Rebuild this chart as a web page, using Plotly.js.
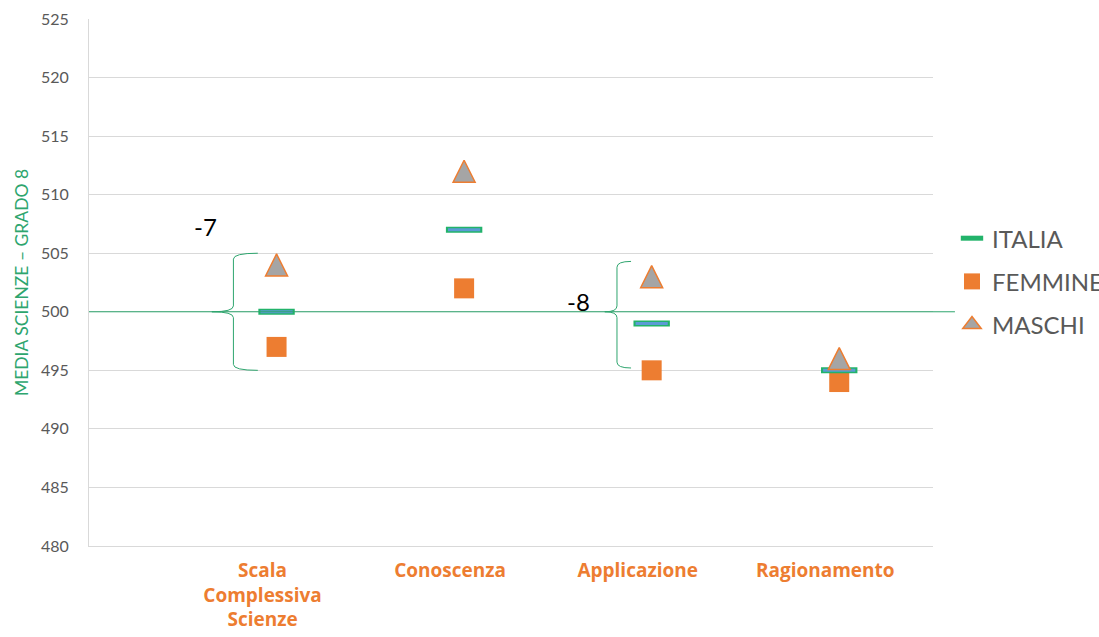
<!DOCTYPE html>
<html>
<head>
<meta charset="utf-8">
<script src="https://cdn.plot.ly/plotly-3.0.1.min.js"></script>
<style>
html,body{margin:0;padding:0;background:#fff;}
#chart{width:1099px;height:637px;}
</style>
</head>
<body>
<div id="chart"></div>
<script>
// ---- data ----
const categories = ["Scala<br>Complessiva<br>Scienze", "Conoscenza", "Applicazione", "Ragionamento"];
const catPos = [1, 2, 3, 4];
const italia = [500, 507, 499, 495];
const femmine = [497, 502, 495, 494];
const maschi = [504, 512, 503, 496];
const yTicks = [480, 485, 490, 495, 500, 505, 510, 515, 520, 525];

const FONT = "Lato, 'Open Sans', sans-serif";
const ORANGE = "#ED7D31";
const GREEN = "#2EA56E";

const traces = [
  {
    name: "FEMMINE", x: catPos, y: femmine, type: "scatter", mode: "markers",
    legendgroup: "f", legendrank: 2,
    marker: {symbol: "square", size: 20, color: ORANGE, line: {width: 0}},
    hoverinfo: "skip"
  },
  {
    name: "ITALIA", x: catPos, y: italia, type: "scatter", mode: "markers",
    legendgroup: "i", legendrank: 1,
    marker: {symbol: "line-ew", size: 26, color: GREEN, line: {width: 6, color: "#22B36A"}},
    hoverinfo: "skip"
  },
  {
    name: "ITALIA_in", x: catPos, y: italia, type: "scatter", mode: "markers",
    legendgroup: "i", showlegend: false,
    marker: {symbol: "line-ew", size: 23, color: "#5B9BD5", line: {width: 3, color: "#5B9BD5"}},
    hoverinfo: "skip"
  },
  {
    name: "MASCHI", x: catPos, y: maschi, type: "scatter", mode: "markers",
    legendgroup: "m", showlegend: false,
    marker: {symbol: "arrow-down", angle: 180, standoff: 11, size: 22, color: "#A5A5A5",
             line: {width: 1.5, color: ORANGE}},
    hoverinfo: "skip"
  },
  {
    // legend entry for MASCHI (no points of its own)
    name: "MASCHI", x: [null], y: [null], type: "scatter", mode: "markers",
    legendgroup: "m", legendrank: 3, showlegend: true,
    marker: {symbol: "triangle-up", size: 16, color: "#A5A5A5",
             line: {width: 1.5, color: ORANGE}},
    hoverinfo: "skip"
  }
];

function brace(xc, xt, xa, y0, y1, ym, d) {
  return `M${xa},${y1} Q${xc},${y1} ${xc},${y1 - d} L${xc},${ym + d} Q${xc},${ym} ${xt},${ym} ` +
         `Q${xc},${ym} ${xc},${ym - d} L${xc},${y0 + d} Q${xc},${y0} ${xa},${y0}`;
}

const shapes = [
  {type: "line", xref: "paper", yref: "y", x0: 0, x1: 1.026, y0: 500, y1: 500,
   line: {color: GREEN, width: 1}},
  {type: "path", xref: "x", yref: "y", path: brace(0.77, 0.655, 0.90, 495, 505, 500, 0.5),
   line: {color: GREEN, width: 1}},
  {type: "path", xref: "x", yref: "y", path: brace(2.815, 2.75, 2.89, 495.2, 504.3, 500, 0.5),
   line: {color: GREEN, width: 1}}
];

const annotations = [
  {xref: "x", yref: "y", x: 0.62, y: 507.3, text: String(femmine[0] - maschi[0]), showarrow: false,
   font: {family: FONT, size: 24, color: "#000"}},
  {xref: "x", yref: "y", x: 2.61, y: 500.9, text: String(femmine[2] - maschi[2]), showarrow: false,
   font: {family: FONT, size: 24, color: "#000"}}
];

const layout = {
  width: 1099, height: 637,
  paper_bgcolor: "#fff", plot_bgcolor: "#fff",
  margin: {l: 89, r: 166, t: 19, b: 91, autoexpand: false},
  font: {family: FONT, color: "#595959"},
  showlegend: true,
  legend: {x: 1.0225, xanchor: "left", y: 0.626, yanchor: "top",
           traceorder: "grouped", tracegroupgap: 9,
           font: {family: FONT, size: 24, color: "#595959"}, bgcolor: "rgba(0,0,0,0)"},
  xaxis: {
    range: [0, 4.5], tickvals: catPos, ticktext: categories,
    showgrid: false, zeroline: false, showline: true, linecolor: "#D9D9D9", linewidth: 1,
    ticks: "", ticklabelstandoff: 7, ticklabelshift: -14,
    tickfont: {family: "'Open Sans', sans-serif", size: 19, color: ORANGE, weight: "bold"}
  },
  yaxis: {
    range: [480, 525], tickvals: yTicks, ticktext: yTicks.map(String),
    showgrid: true, gridcolor: "#D9D9D9", gridwidth: 1, zeroline: false,
    showline: true, linecolor: "#D9D9D9", linewidth: 1,
    ticks: "", ticklabelstandoff: 16,
    tickfont: {family: FONT, size: 16, color: "#595959"},
    title: {text: "MEDIA SCIENZE – GRADO 8", standoff: 7,
            font: {family: FONT, size: 17.5, color: GREEN}}
  },
  shapes: shapes,
  annotations: annotations
};

Plotly.newPlot("chart", traces, layout, {staticPlot: true, displayModeBar: false});
</script>
</body>
</html>
